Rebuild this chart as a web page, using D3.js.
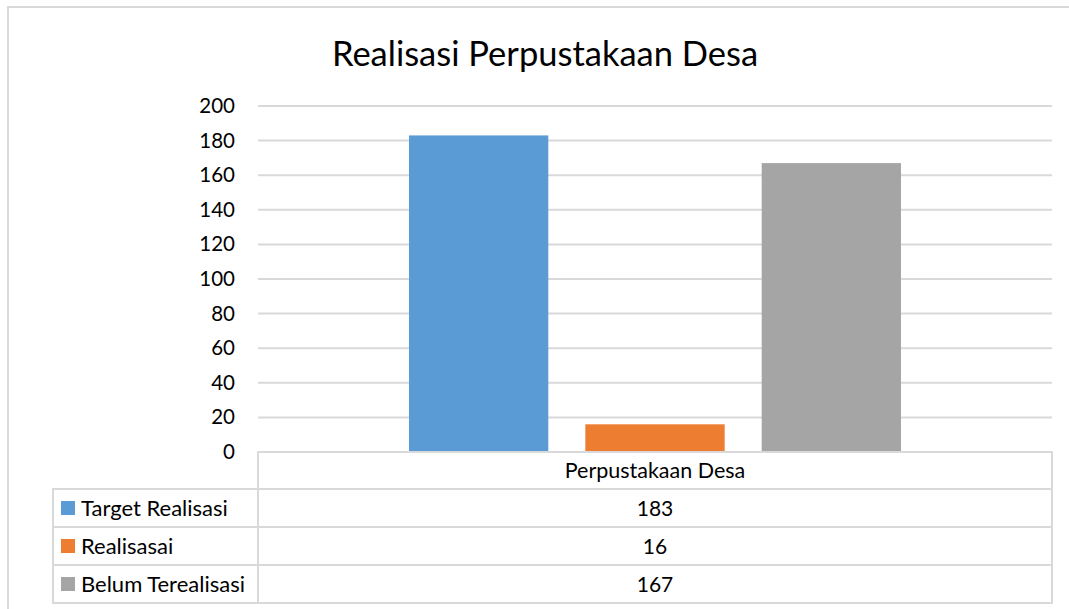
<!DOCTYPE html>
<html>
<head>
<meta charset="utf-8">
<script src="https://cdn.jsdelivr.net/npm/d3@7"></script>
<style>
  body { margin: 0; background: #fff; }
  text { font-family: Lato, "Open Sans", sans-serif; fill: #000; }
</style>
</head>
<body>
<svg id="mainsvg" width="1069" height="609"></svg>
<script>
// data
const category = 'Perpustakaan Desa';
const seriesNames = ['Target Realisasi', 'Realisasai', 'Belum Terealisasi'];
const seriesValues = [183, 16, 167];
const seriesColors = ['#5b9bd5', '#ed7d31', '#a5a5a5'];
const yTicks = [0, 20, 40, 60, 80, 100, 120, 140, 160, 180, 200];

const svg = d3.select('#mainsvg');
const gridColor = '#d9d9d9';
const margin = {left: 258, top: 106};
const plotRight = 1052;
const plotBottom = 452;

// outer chart frame (cropped)
svg.append('path')
    .attr('d', 'M8,609 V7 H1069')
    .attr('fill', 'none')
    .attr('stroke', gridColor)
    .attr('stroke-width', 2);

svg.append('text')
    .attr('x', 545)
    .attr('y', 66)
    .attr('text-anchor', 'middle')
    .attr('font-size', '34.5px')
    .text('Realisasi Perpustakaan Desa');

const yScale = d3.scaleLinear()
    .domain([0, 200])
    .range([plotBottom, margin.top]);

const xScale = d3.scaleBand()
    .domain([category])
    .range([margin.left, plotRight]);

const innerScale = d3.scaleBand()
    .domain(seriesNames)
    .range([409, 901])
    .paddingInner(0.21);

// gridlines
svg.append('g').selectAll('line')
    .data(yTicks.filter(d => d > 0))
    .join('line')
    .attr('x1', margin.left)
    .attr('x2', plotRight)
    .attr('y1', d => yScale(d))
    .attr('y2', d => yScale(d))
    .attr('stroke', gridColor)
    .attr('stroke-width', 2);

// y axis labels
const yAxis = d3.axisLeft(yScale).tickValues(yTicks).tickSize(0).tickPadding(23);
const yAxisG = svg.append('g')
    .attr('transform', `translate(${margin.left}, 0)`)
    .call(yAxis);
yAxisG.select('.domain').remove();
yAxisG.selectAll('.tick text')
    .attr('font-size', '20.5px')
    .attr('font-family', 'Lato, sans-serif')
    .attr('fill', '#000');

// bars
svg.append('g')
    .selectAll('rect')
    .data(seriesNames.map((n, i) => ({name: n, value: seriesValues[i], color: seriesColors[i]})))
    .join('rect')
    .attr('x', d => innerScale(d.name))
    .attr('y', d => yScale(d.value))
    .attr('width', innerScale.bandwidth())
    .attr('height', d => plotBottom - yScale(d.value))
    .attr('fill', d => d.color);

// data table
const rowH = 38;
const headerTop = plotBottom;
const tableLeft = 53;
const table = svg.append('g');

const rowTops = seriesNames.map((n, i) => headerTop + rowH * (i + 1) - 1);
const tableBottom = headerTop + rowH * 4 - 1;

table.append('rect')
    .attr('x', margin.left).attr('y', headerTop)
    .attr('width', plotRight - margin.left).attr('height', tableBottom - headerTop)
    .attr('fill', 'none').attr('stroke', gridColor).attr('stroke-width', 2);
table.append('rect')
    .attr('x', tableLeft).attr('y', rowTops[0])
    .attr('width', plotRight - tableLeft).attr('height', tableBottom - rowTops[0])
    .attr('fill', 'none').attr('stroke', gridColor).attr('stroke-width', 2);
table.selectAll('.rowline')
    .data(rowTops.slice(1))
    .join('line')
    .attr('x1', tableLeft).attr('x2', plotRight)
    .attr('y1', d => d).attr('y2', d => d)
    .attr('stroke', gridColor).attr('stroke-width', 2);

const midX = xScale(category) + xScale.bandwidth() / 2;

table.append('text')
    .attr('x', midX)
    .attr('y', headerTop + rowH / 2 + 7)
    .attr('text-anchor', 'middle')
    .attr('font-size', '21.5px')
    .text(category);

seriesNames.forEach((n, i) => {
    const cy = rowTops[i] + rowH / 2;
    table.append('rect')
        .attr('x', 61).attr('y', cy - 7)
        .attr('width', 14).attr('height', 14)
        .attr('fill', seriesColors[i]);
    table.append('text')
        .attr('x', 81).attr('y', cy + 8)
        .attr('font-size', '22px')
        .text(n);
    table.append('text')
        .attr('x', midX)
        .attr('y', cy + 8)
        .attr('text-anchor', 'middle')
        .attr('font-size', '21px')
        .text(seriesValues[i]);
});
</script>
</body>
</html>
